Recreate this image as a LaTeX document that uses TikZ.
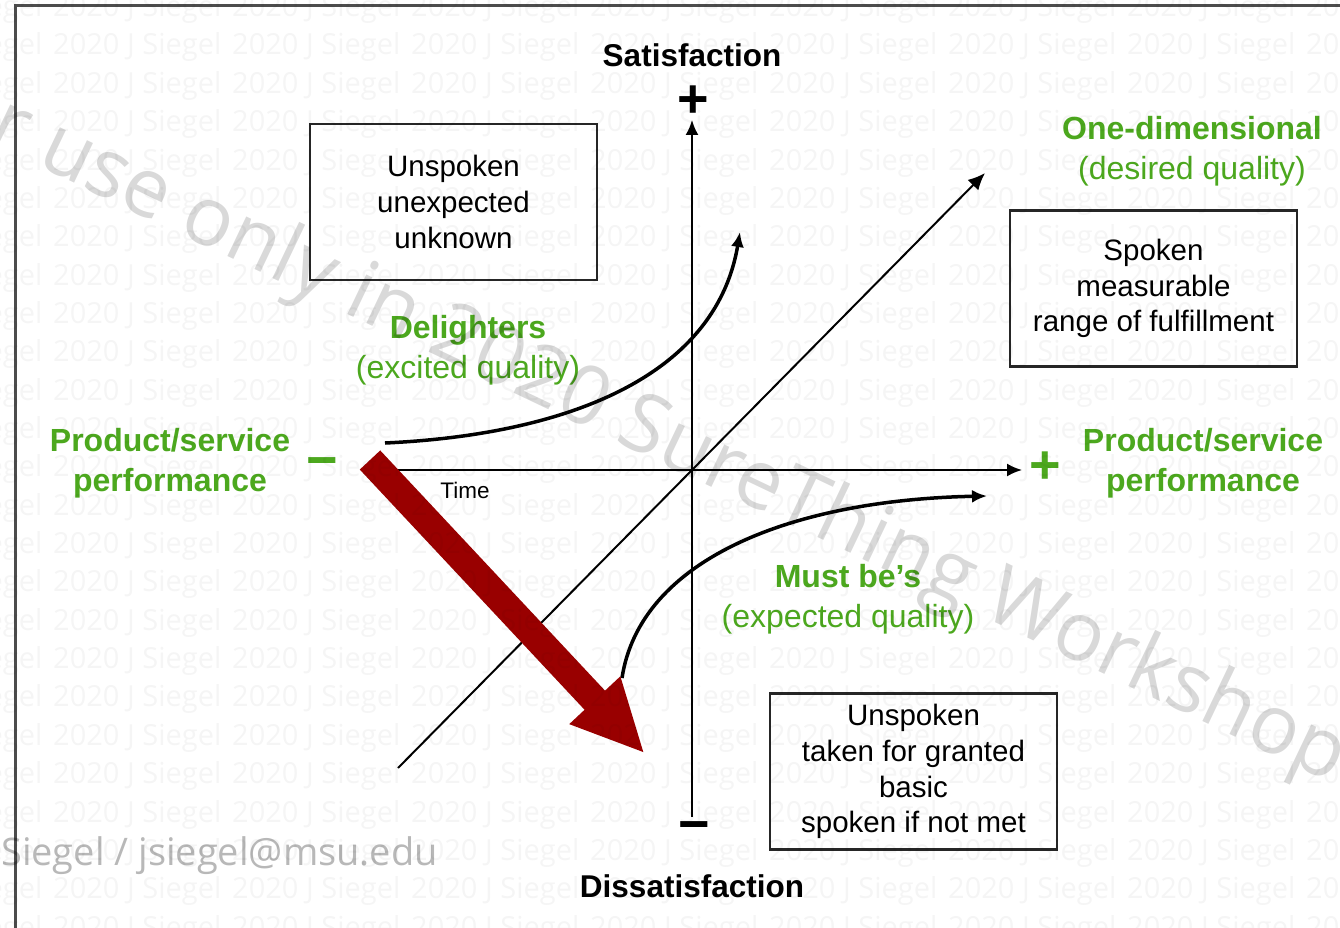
\documentclass[tikz,border=0pt]{standalone}
\usepackage{fontspec}
\setmainfont{Liberation Sans}
\newfontfamily\wmfont{Open Sans}
\usetikzlibrary{arrows.meta}
\definecolor{kgreen}{RGB}{76,168,30}
\definecolor{kred}{RGB}{153,0,0}
\begin{document}
\begin{tikzpicture}[x=1pt,y=-1pt,
  axisline/.style={line width=2pt,black,-{Latex[length=15pt,width=13pt]}},
  diagline/.style={line width=2pt,black,-{Latex[length=17pt,width=15pt]}},
  curveline/.style={line width=3.5pt,black,-{Latex[length=15pt,width=13pt]}},
  boxnode/.style={draw=black!85,line width=2.5pt,minimum width=287pt,minimum height=156pt,
    align=center,inner sep=0pt,font=\fontsize{29.5}{35.8}\selectfont},
  glabel/.style={text=kgreen,align=center,inner sep=0pt,font=\fontsize{32}{40.5}\selectfont},
  title/.style={font=\bfseries\fontsize{31.5}{36}\selectfont,inner sep=0pt},
  sign/.style={font=\bfseries\fontsize{54}{54}\selectfont,inner sep=0pt},
  wm/.style={font=\wmfont\fontsize{29}{29}\selectfont,text=black,text opacity=0.04,inner sep=0pt,anchor=base west},
  bigwm/.style={font=\wmfont\fontsize{82}{82}\selectfont,text=black,text opacity=0.15,inner sep=0pt},
  mailwm/.style={font=\wmfont\fontsize{38}{38}\selectfont,text=black,text opacity=0.28,inner sep=0pt,anchor=base west}
]
\useasboundingbox[fill=white] (0,0) rectangle (1340,928);
% frame
\draw[line width=3pt,black!70] (15,928) -- (15,6) -- (1340,6);

% axes
\coordinate (hx0) at (362,470);
\coordinate (hx1) at (1022,470);
\coordinate (vy0) at (692,817);
\coordinate (vy1) at (692,120);
\coordinate (d0) at (398,768);
\coordinate (d1) at (985,173);
\draw[axisline] (hx0) -- (hx1);
\draw[axisline] (vy0) -- (vy1);
\draw[diagline] (d0) -- (d1);

% curves
\coordinate (c1s) at (385,443);
\coordinate (c1e) at (740,232);
\draw[curveline] (c1s) .. controls (560,435) and (715,380) .. (c1e);
\coordinate (c2s) at (622,678);
\coordinate (c2e) at (987,496);
\draw[curveline] (c2s) .. controls (640,560) and (790,500) .. (c2e);

% red arrow
\begin{scope}[shift={(370,460)},rotate=-46.9]
\fill[kred] (0,-14) -- (329,-14) -- (329,-35) -- (400,0) -- (329,35) -- (329,14) -- (0,14) -- cycle;
\end{scope}

% titles and signs
\node[title] (sat) at (692,55) {Satisfaction};
\node[title] (dis) at (692,886) {Dissatisfaction};
\node[sign] (splus) at (693,102) {+};
\node[sign] (sminus) at (694,832) {−};
\node[sign,text=kgreen] (pplus) at (1045,468) {+};
\node[sign,text=kgreen] (pminus) at (322,468) {−};
\node[inner sep=0pt,font=\fontsize{22.5}{24}\selectfont] (time) at (465,490) {Time};

% green labels
\node[glabel] (perfL) at (170,463) {\textbf{Product/service}\\\textbf{performance}};
\node[glabel] (perfR) at (1203,463) {\textbf{Product/service}\\\textbf{performance}};
\node[glabel] (onedim) at (1192,151) {\textbf{One-dimensional}\\(desired quality)};
\node[glabel] (delight) at (468,350) {\textbf{Delighters}\\(excited quality)};
\node[glabel] (mustbe) at (848,599) {\textbf{Must be's}\\(expected quality)};

% boxes
\node[boxnode] (b1) at (453.5,202) {Unspoken\\unexpected\\unknown};
\node[boxnode] (b2) at (1153.5,288.5) {Spoken\\measurable\\range of fulfillment};
\node[boxnode] (b3) at (913.5,771.5) {Unspoken\\taken for granted\\basic\\spoken if not met};

% watermarks
\foreach \r in {-1,...,23}{
  \foreach \c in {-1,...,7}{
    \node[wm] (wm-\r-\c) at ({53+179*\c},{55+38.35*\r}) {2020 J Siegel};
  }
}
\node[bigwm,rotate=-25.5] (bigmark) at (668,443) {r use only in 2020 SureThing Workshop};
\node[mailwm] (mail) at (1,865) {Siegel / jsiegel@msu.edu};
\end{tikzpicture}
\end{document}
